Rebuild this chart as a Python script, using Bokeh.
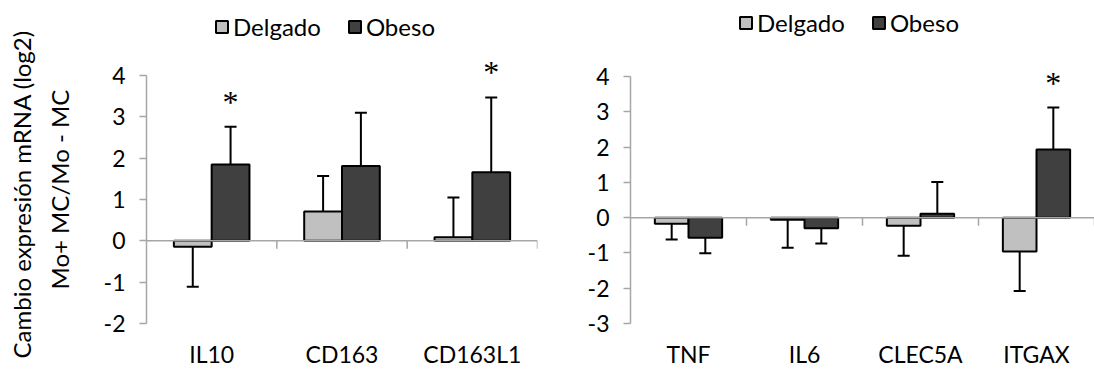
from bokeh.plotting import figure
from bokeh.models import (FactorRange, Range1d, FixedTicker, Legend, Span,
                          LegendItem, LabelSet, ColumnDataSource, Title)
from bokeh.transform import dodge
from bokeh.layouts import row
from bokeh.embed import file_html
from bokeh.resources import INLINE

# ---------------- data ----------------
series_names = ["Delgado", "Obeso"]
series_colors = ["#c0c0c0", "#404040"]

left_genes = ["IL10", "CD163", "CD163L1"]
left_delgado = [-0.14, 0.71, 0.09]
left_delgado_err = [0.97, 0.86, 0.96]
left_obeso = [1.85, 1.81, 1.66]
left_obeso_err = [0.91, 1.29, 1.81]
left_significant = [True, False, True]
left_yticks = [-2, -1, 0, 1, 2, 3, 4]

right_genes = ["TNF", "IL6", "CLEC5A", "ITGAX"]
right_delgado = [-0.17, -0.06, -0.23, -0.96]
right_delgado_err = [0.45, 0.79, 0.85, 1.12]
right_obeso = [-0.57, -0.30, 0.11, 1.93]
right_obeso_err = [0.44, 0.43, 0.90, 1.19]
right_significant = [False, False, False, True]
right_yticks = [-3, -2, -1, 0, 1, 2, 3, 4]

y_title_lines = ["Cambio expresión mRNA (log2)", "Mo+ MC/Mo - MC"]

FONT = "Lato"
AXIS_GRAY = "#a6a6a6"
H = 375
AXIS_TOP = 76  # px from top of canvas to the highest y tick


def make_chart(genes, d_vals, d_err, o_vals, o_err, sig, yticks, width,
               b_left, b_right, b_bottom, legend_xy, with_title):
    frame_h = H - b_bottom
    ymin, ymax = min(yticks), max(yticks)
    upp = (ymax - ymin) / (frame_h - AXIS_TOP)  # data units per pixel
    p = figure(x_range=FactorRange(factors=genes, range_padding=0, factor_padding=0),
               y_range=Range1d(ymin, ymax + AXIS_TOP * upp),
               width=width, height=H, output_backend="svg", toolbar_location=None,
               min_border_left=b_left, min_border_right=b_right,
               min_border_top=0, min_border_bottom=b_bottom)
    p.outline_line_color = None
    p.grid.visible = False
    p.background_fill_color = None
    p.border_fill_color = "white"

    # category axis (labels only)
    xa = p.below[0]
    xa.axis_line_color = None
    xa.major_tick_line_color = None
    xa.major_tick_out = 0
    xa.major_tick_in = 0
    xa.major_label_standoff = 16
    xa.major_label_text_font = FONT
    xa.major_label_text_font_size = "23px"
    xa.major_label_text_color = "black"

    # y axis
    ya = p.left[0]
    ya.ticker = FixedTicker(ticks=yticks)
    ya.bounds = (ymin, ymax)
    ya.major_label_overrides = {t: str(t) for t in yticks}
    ya.axis_line_color = AXIS_GRAY
    ya.axis_line_width = 1.5
    ya.major_tick_line_color = AXIS_GRAY
    ya.major_tick_line_width = 1.5
    ya.major_tick_out = 7
    ya.major_tick_in = 0
    ya.minor_tick_line_color = None
    ya.major_label_standoff = 14
    ya.major_label_text_font = FONT
    ya.major_label_text_font_size = "23px"
    ya.major_label_text_color = "black"
    if with_title:
        # small spacer between the tick labels and the two-line title
        ya.axis_label = " "
        ya.axis_label_text_font_size = "1px"
        ya.axis_label_standoff = 12
        # inner line first (closest to the axis), then the outer line;
        # align="left" starts the text at the frame bottom, shifted up by offset
        for txt, so, off in zip(reversed(y_title_lines), [22, -8], [34, -35]):
            p.add_layout(Title(text=txt, align="left", offset=off,
                               text_font=FONT, text_font_size="24px",
                               text_font_style="normal", text_color="black",
                               standoff=so), "left")

    # zero line + separator ticks between categories
    p.add_layout(Span(location=0, dimension="width", line_color=AXIS_GRAY,
                      line_width=1.5))
    sep_src = ColumnDataSource(dict(gene=genes))
    sx = dodge("gene", 0.5, range=p.x_range)
    p.segment(x0=sx, y0=0, x1=sx, y1=-8 * upp, source=sep_src,
              line_color=AXIS_GRAY, line_width=1.5)

    bw = 0.29
    offs = [-bw / 2, bw / 2]
    renderers = []
    for name, color, off, vals, errs in zip(series_names, series_colors, offs,
                                            [d_vals, o_vals], [d_err, o_err]):
        ends = [v + e if v >= 0 else v - e for v, e in zip(vals, errs)]
        src = ColumnDataSource(dict(gene=genes, val=vals, end=ends))
        xd = dodge("gene", off, range=p.x_range)
        r = p.vbar(x=xd, top="val", bottom=0, width=bw, source=src,
                   fill_color=color, line_color="black", line_width=2)
        renderers.append(r)
        p.segment(x0=xd, y0="val", x1=xd, y1="end", source=src,
                  line_color="black", line_width=2)
        p.scatter(x=xd, y="end", marker="dash", size=12, angle=0, source=src,
                  line_color="black", line_width=2)

    # significance markers above Obeso error bars
    sig_src = ColumnDataSource(dict(
        gene=[g for g, s in zip(genes, sig) if s],
        end=[v + e for v, e, s in zip(o_vals, o_err, sig) if s],
        txt=["*" for s in sig if s]))
    p.add_layout(LabelSet(x=dodge("gene", bw / 2, range=p.x_range), y="end",
                          text="txt", source=sig_src, y_offset=25,
                          text_align="center", text_baseline="middle",
                          text_font=FONT, text_font_size="32px",
                          text_color="black"))

    legend = Legend(items=[LegendItem(label=nm, renderers=[r])
                           for nm, r in zip(series_names, renderers)],
                    orientation="horizontal", location=legend_xy,
                    border_line_color=None, background_fill_alpha=0,
                    glyph_width=15, glyph_height=15, label_standoff=4,
                    spacing=26, padding=0, margin=0,
                    label_text_font=FONT, label_text_font_size="24px",
                    label_text_color="black")
    p.add_layout(legend, "center")
    return p


left = make_chart(left_genes, left_delgado, left_delgado_err, left_obeso,
                  left_obeso_err, left_significant, left_yticks, 547,
                  146, 10, 48, (68, 282), True)
right = make_chart(right_genes, right_delgado, right_delgado_err, right_obeso,
                   right_obeso_err, right_significant, right_yticks, 547,
                   83, 0, 52, (108, 286), False)

layout = row(left, right)
open("out.html", "w").write(file_html(layout, INLINE))
